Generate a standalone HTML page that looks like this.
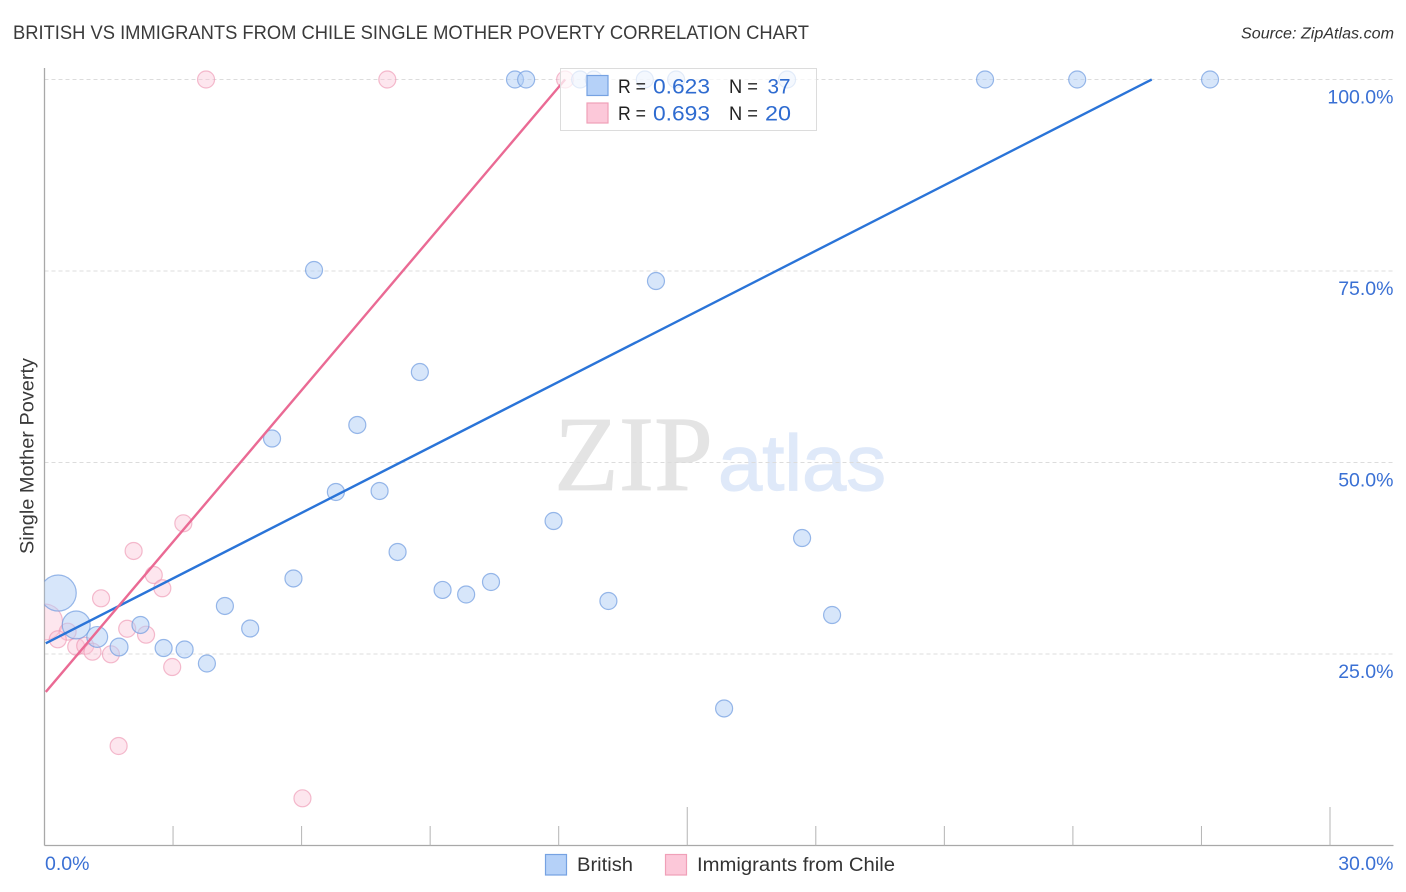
<!DOCTYPE html>
<html lang="en">
<head>
<meta charset="utf-8">
<title>British vs Immigrants from Chile Single Mother Poverty Correlation Chart</title>
<style>
html,body{margin:0;padding:0;background:#fff;}
svg{display:block;font-family:"Liberation Sans",sans-serif;}
</style>
</head>
<body>
<svg id="chart" xmlns="http://www.w3.org/2000/svg" width="1406" height="892" viewBox="0 0 1406 892">
  <defs>
    <clipPath id="plot-clip"><rect x="44.5" y="50" width="1349" height="796"/></clipPath>
  </defs>
  <rect x="0" y="0" width="1406" height="892" fill="#fff"/>
  <text x="13" y="39" font-size="19" fill="#3a3a3a" textLength="796" lengthAdjust="spacingAndGlyphs">BRITISH VS IMMIGRANTS FROM CHILE SINGLE MOTHER POVERTY CORRELATION CHART</text>
  <text x="1241" y="38.5" font-size="15.5" font-style="italic" fill="#333" textLength="153" lengthAdjust="spacingAndGlyphs">Source: ZipAtlas.com</text>
  <g>
    <text x="554" y="490" font-family="'Liberation Serif',serif" font-size="107" fill="#e4e4e4" stroke="#e4e4e4" stroke-width="0.8" textLength="159" lengthAdjust="spacingAndGlyphs">ZIP</text>
    <text x="718" y="490" font-size="79" fill="#dfe9f9" stroke="#dfe9f9" stroke-width="1.2" textLength="168" lengthAdjust="spacingAndGlyphs">atlas</text>
  </g>
  <g id="grid"></g>
  <g id="axes"></g>
  <g id="points" clip-path="url(#plot-clip)"></g>
  <g id="trends"></g>
  <g>
    <rect x="560.5" y="68.5" width="256" height="62" fill="#fff" fill-opacity="0.72" stroke="#dcdcdc" stroke-width="1"/>
    <rect x="587" y="75.5" width="21" height="20" fill="#b5d1f8" stroke="#76a2e2" stroke-width="1.2"/>
    <rect x="587" y="103" width="21" height="20" fill="#fcc8d9" stroke="#f0a0b8" stroke-width="1.2"/>
    <text x="618" y="93" font-size="19" fill="#222" textLength="28" lengthAdjust="spacingAndGlyphs">R =</text>
    <text x="653" y="93.5" font-size="21" fill="#2e6bd0" textLength="57" lengthAdjust="spacingAndGlyphs">0.623</text>
    <text x="729" y="93" font-size="19" fill="#222" textLength="29" lengthAdjust="spacingAndGlyphs">N =</text>
    <text x="767.5" y="93.5" font-size="21" fill="#2e6bd0" textLength="23" lengthAdjust="spacingAndGlyphs">37</text>
    <text x="618" y="120" font-size="19" fill="#222" textLength="28" lengthAdjust="spacingAndGlyphs">R =</text>
    <text x="653" y="120.5" font-size="21" fill="#2e6bd0" textLength="57" lengthAdjust="spacingAndGlyphs">0.693</text>
    <text x="729" y="120" font-size="19" fill="#222" textLength="29" lengthAdjust="spacingAndGlyphs">N =</text>
    <text x="765" y="120.5" font-size="21" fill="#2e6bd0" textLength="26" lengthAdjust="spacingAndGlyphs">20</text>
  </g>
  <text transform="translate(33.5,456) rotate(-90)" text-anchor="middle" font-size="19" fill="#3a3a3a" textLength="196" lengthAdjust="spacingAndGlyphs">Single Mother Poverty</text>
  <g>
    <rect x="545.5" y="854.5" width="21" height="20.5" fill="#b5d1f8" stroke="#76a2e2" stroke-width="1.2"/>
    <text x="577" y="871" font-size="19.5" fill="#333" textLength="56" lengthAdjust="spacingAndGlyphs">British</text>
    <rect x="665.5" y="854.5" width="21" height="20.5" fill="#fcc8d9" stroke="#f0a0b8" stroke-width="1.2"/>
    <text x="697" y="871" font-size="19.5" fill="#333" textLength="198" lengthAdjust="spacingAndGlyphs">Immigrants from Chile</text>
  </g>
</svg>
<script>
const yTickValues = [25, 50, 75, 100];
const yTickLabels = ["25.0%", "50.0%", "75.0%", "100.0%"];
const xTickValues = [3, 6, 9, 12, 15, 18, 21, 24, 27, 30];
const xMajorTicks = [15, 30];
const xEndLabels = ["0.0%", "30.0%"];

const britishX = [0.32,0.74,1.23,1.74,2.24,2.78,3.27,3.79,4.21,4.80,5.81,5.31,6.29,6.80,7.30,7.82,8.24,8.76,9.29,9.84,10.42,11.88,13.16,14.27,15.86,17.68,18.38,10.98,11.24,12.50,12.82,14.01,14.74,17.33,21.95,24.10,27.20];
const britishY = [32.96,28.79,27.22,25.91,28.79,25.78,25.59,23.76,31.27,28.33,34.86,53.13,75.13,46.15,54.90,46.28,38.32,61.81,33.36,32.77,34.40,42.36,31.92,73.69,17.89,40.14,30.09,100,100,100,100,100,100,100,100,100,100];
const britishWeight = [4.5,2.7,1.5,1.1,1,1,1,1,1,1,1,1,1,1,1,1,1,1,1,1,1,1,1,1,1,1,1,1,1,1,1,1,1,1,1,1,1];

const chileX = [0.0,0.54,0.31,0.74,0.95,1.12,1.55,1.93,2.37,2.98,1.73,6.02,1.32,2.55,2.75,2.08,3.24,3.77,8.00,12.15];
const chileY = [29.18,27.91,26.92,25.95,26.08,25.30,24.96,28.30,27.52,23.30,12.99,6.16,32.27,35.31,33.58,38.45,42.06,100,100,100];
const chileWeight = [4.5,1,1,1,1,1,1,1,1,1,1,1,1,1,1,1,1,1,1,1];

const britishTrendX = [0.03, 25.84];
const britishTrendY = [26.4, 100];
const chileTrendX = [0.03, 12.15];
const chileTrendY = [20.05, 100];

const SVG_NS = "http://www.w3.org/2000/svg";
const X0 = 44.5, X1 = 1330, XMAX = 30;
const Y0 = 845.5, Y100 = 79.5;
const RIGHT = 1393.5;
function xScale(v) { return X0 + (v / XMAX) * (X1 - X0); }
function yScale(v) { return Y0 - (v / 100) * (Y0 - Y100); }
function radius(w) { return 8.5 * Math.sqrt(w); }
function make(tag, attrs, parent) {
  const el = document.createElementNS(SVG_NS, tag);
  for (const k in attrs) el.setAttribute(k, attrs[k]);
  parent.appendChild(el);
  return el;
}

const grid = document.getElementById("grid");
const axes = document.getElementById("axes");
const points = document.getElementById("points");
const trends = document.getElementById("trends");

yTickValues.forEach(function (v, i) {
  const line = make("line", { x1: X0, x2: RIGHT, y1: yScale(v), y2: yScale(v), stroke: "#dcdcdc", "stroke-width": 1, "stroke-dasharray": "4 3" }, grid);
  
  
  const label = make("text", { x: RIGHT, y: yScale(v) + 24, "text-anchor": "end", "font-size": 19.5, fill: "#3a70d4" }, axes);
  
  
  label.textContent = yTickLabels[i];
});

const yAxis = make("line", { x1: X0, x2: X0, y1: 68, y2: Y0, stroke: "#a8a8a8", "stroke-width": 1.3 }, axes);


const xAxis = make("line", { x1: X0, x2: RIGHT, y1: Y0, y2: Y0, stroke: "#a8a8a8", "stroke-width": 1.3 }, axes);



xTickValues.forEach(function (v) {
  const top = xMajorTicks.indexOf(v) >= 0 ? 807 : 826;
  const tick = make("line", { x1: xScale(v), x2: xScale(v), y1: top, y2: Y0, stroke: "#b4b4b4", "stroke-width": 1 }, axes);
  
  
});

const xLabelStart = make("text", { x: 45, y: 870, "font-size": 19.5, fill: "#3a70d4" }, axes);


xLabelStart.textContent = xEndLabels[0];
const xLabelEnd = make("text", { x: RIGHT, y: 870, "text-anchor": "end", "font-size": 19.5, fill: "#3a70d4" }, axes);


xLabelEnd.textContent = xEndLabels[1];

chileX.forEach(function (x, i) {
  const c = make("circle", { cx: xScale(x), cy: yScale(chileY[i]), r: radius(chileWeight[i]), fill: "#fbc4d6", "fill-opacity": 0.42, stroke: "#ee98b4", "stroke-opacity": 0.65, "stroke-width": 1.2 }, points);
  
  
});
britishX.forEach(function (x, i) {
  const c = make("circle", { cx: xScale(x), cy: yScale(britishY[i]), r: radius(britishWeight[i]), fill: "#b0cdf6", "fill-opacity": 0.5, stroke: "#6f9be0", "stroke-opacity": 0.7, "stroke-width": 1.2 }, points);
  
  
});

const blueTrend = make("line", { x1: xScale(britishTrendX[0]), y1: yScale(britishTrendY[0]), x2: xScale(britishTrendX[1]), y2: yScale(britishTrendY[1]), stroke: "#2a74d8", "stroke-width": 2.4 }, trends);


const pinkTrend = make("line", { x1: xScale(chileTrendX[0]), y1: yScale(chileTrendY[0]), x2: xScale(chileTrendX[1]), y2: yScale(chileTrendY[1]), stroke: "#ea6a94", "stroke-width": 2.4 }, trends);


</script>
</body>
</html>
